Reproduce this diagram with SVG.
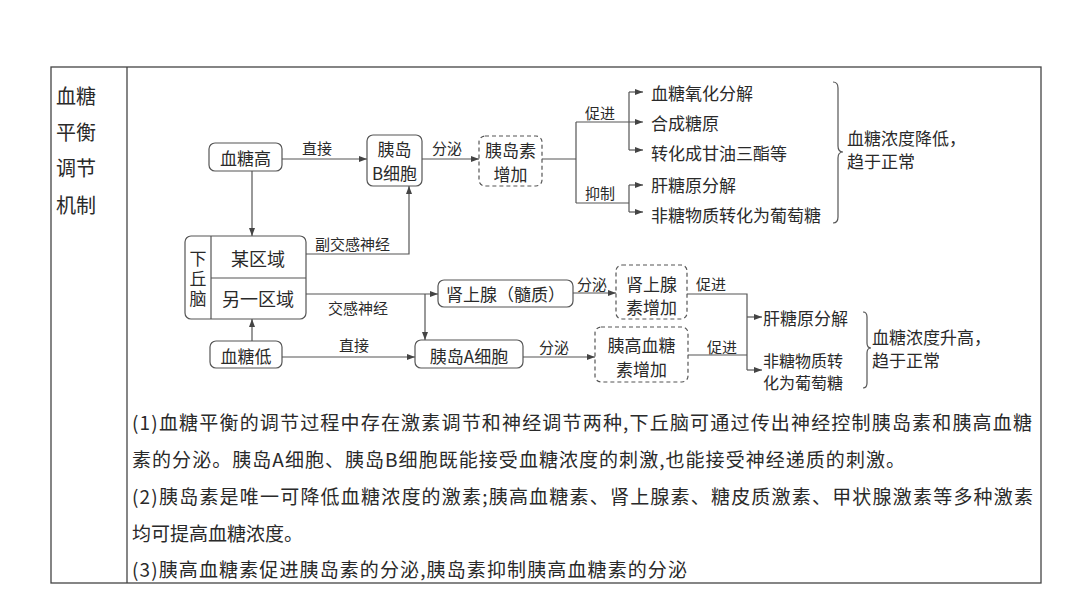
<svg xmlns="http://www.w3.org/2000/svg" width="1080" height="607" viewBox="0 0 1080 607">
<style>
text{font-family:"Noto Sans CJK SC","Noto Sans",sans-serif;fill:#2a2a2a;dominant-baseline:central}
.n{font-size:17px}
.l{font-size:15px}
.p{font-size:19px}
.box{fill:#fff;stroke:#555;stroke-width:1.2}
.dash{fill:#fff;stroke:#555;stroke-width:1.2;stroke-dasharray:4 3}
.c{fill:none;stroke:#555;stroke-width:1.2}
.a{marker-end:url(#ah)}
</style>
<defs>
<marker id="ah" markerUnits="userSpaceOnUse" markerWidth="8" markerHeight="6" refX="8" refY="3" orient="auto">
<path d="M0,0 L8,3 L0,6 z" fill="#444"/>
</marker>
</defs>
<rect width="1080" height="607" fill="#fff"/>
<g id="table">
<rect x="51" y="67" width="990" height="516" fill="none" stroke="#444" stroke-width="1.3"/>
<line x1="127" y1="67" x2="127" y2="583" stroke="#444" stroke-width="1.3"/>
<text style="font-size:20px"><tspan x="56" y="95">血糖</tspan><tspan x="56" y="131">平衡</tspan><tspan x="56" y="167">调节</tspan><tspan x="56" y="204">机制</tspan></text>
</g>
<g id="connectors">
<path class="c a" d="M282,159 L367,159"/>
<path class="c a" d="M252,171 L252,236"/>
<path class="c a" d="M306,254 L409,254 L409,186"/>
<path class="c a" d="M422,159 L479,159"/>
<path class="c" d="M542,159 L576,159 M576,122 L576,203 M629,92 L629,150 M576,203 L629,203 M629,185 L629,212"/>
<path class="c a" d="M576,122 L643,122"/>
<path class="c a" d="M629,92 L643,92"/>
<path class="c a" d="M629,150 L643,150"/>
<path class="c a" d="M629,185 L643,185"/>
<path class="c a" d="M629,212 L643,212"/>
<path class="c a" d="M306,294 L438,294"/>
<path class="c a" d="M425,294 L425,340"/>
<path class="c a" d="M252,341 L252,319"/>
<path class="c a" d="M282,357 L415,357"/>
<path class="c a" d="M573,293 L616,293"/>
<path class="c a" d="M523,357 L595,357"/>
<path class="c" d="M687,294 L747,294 L747,370 M688,355 L747,355"/>
<path class="c a" d="M747,317 L762,317"/>
<path class="c a" d="M747,370 L762,370"/>
<text class="l" x="302" y="147">直接</text>
<text class="l" x="432" y="147">分泌</text>
<text class="l" x="585" y="112">促进</text>
<text class="l" x="585" y="192">抑制</text>
<text class="l" x="315" y="243">副交感神经</text>
<text class="l" x="328" y="307">交感神经</text>
<text class="l" x="339" y="344">直接</text>
<text class="l" x="577" y="283">分泌</text>
<text class="l" x="539" y="346">分泌</text>
<text class="l" x="696" y="283">促进</text>
<text class="l" x="707" y="346">促进</text>
</g>
<g id="n-high">
<rect class="box" x="209" y="143" width="73" height="28" rx="6"/>
<text class="n" x="245.5" y="157" text-anchor="middle">血糖高</text>
</g>
<g id="n-bcell">
<rect class="box" x="367" y="135" width="55" height="51" rx="6"/>
<text class="n" text-anchor="middle"><tspan x="394.5" y="148">胰岛</tspan><tspan x="394.5" y="171.5">B细胞</tspan></text>
</g>
<g id="n-insulin">
<rect class="dash" x="479" y="136" width="63" height="50" rx="6"/>
<text class="n" text-anchor="middle"><tspan x="510.5" y="149">胰岛素</tspan><tspan x="510.5" y="172.5">增加</tspan></text>
</g>
<g id="n-effects-low">
<text class="n" x="651" y="92">血糖氧化分解</text>
<text class="n" x="651" y="122">合成糖原</text>
<text class="n" x="651" y="152">转化成甘油三酯等</text>
<text class="n" x="651" y="184">肝糖原分解</text>
<text class="n" x="651" y="214">非糖物质转化为葡萄糖</text>
<path class="c" d="M833,82 Q838,82 838,88 L838,146 Q838,152 843,152 Q838,152 838,158 L838,217 Q838,223 833,223"/>
<text class="n"><tspan x="847" y="136.5">血糖浓度降低，</tspan><tspan x="847" y="160">趋于正常</tspan></text>
</g>
<g id="n-hypothalamus">
<rect class="box" x="185" y="236" width="121" height="83" rx="6"/>
<line x1="211" y1="236" x2="211" y2="319" stroke="#555" stroke-width="1.2"/>
<line x1="211" y1="278" x2="306" y2="278" stroke="#555" stroke-width="1.2"/>
<text class="n" x="198" y="280" text-anchor="middle" writing-mode="vertical-rl" style="letter-spacing:3px">下丘脑</text>
<text x="258" y="258" text-anchor="middle" style="font-size:18px">某区域</text>
<text x="258" y="298" text-anchor="middle" style="font-size:18px">另一区域</text>
</g>
<g id="n-low">
<rect class="box" x="210" y="341" width="72" height="27" rx="6"/>
<text class="n" x="246" y="355" text-anchor="middle">血糖低</text>
</g>
<g id="n-adrenal">
<rect class="box" x="438" y="280" width="135" height="27" rx="6"/>
<text class="n" x="505.5" y="293" text-anchor="middle">肾上腺（髓质）</text>
</g>
<g id="n-acell">
<rect class="box" x="415" y="340" width="108" height="28" rx="6"/>
<text class="n" x="469" y="355" text-anchor="middle">胰岛A细胞</text>
</g>
<g id="n-adrenaline">
<rect class="dash" x="616" y="265" width="71" height="54" rx="6"/>
<text class="n" text-anchor="middle"><tspan x="651.5" y="283">肾上腺</tspan><tspan x="651.5" y="306">素增加</tspan></text>
</g>
<g id="n-glucagon">
<rect class="dash" x="595" y="327" width="93" height="55" rx="6"/>
<text class="n" text-anchor="middle"><tspan x="641.5" y="344">胰高血糖</tspan><tspan x="641.5" y="367.5">素增加</tspan></text>
</g>
<g id="n-effects-high">
<text class="n" x="763" y="317">肝糖原分解</text>
<text style="font-size:16px"><tspan x="763" y="360">非糖物质转</tspan><tspan x="763" y="382">化为葡萄糖</tspan></text>
<path class="c" d="M863,312 Q867,312 867,317 L867,343 Q867,348 871,348 Q867,348 867,353 L867,383 Q867,388 863,388"/>
<text class="n"><tspan x="872" y="335.5">血糖浓度升高，</tspan><tspan x="872" y="359">趋于正常</tspan></text>
</g>
<g id="notes">
<text class="p" x="132" y="421" textLength="900" lengthAdjust="spacing">(1)血糖平衡的调节过程中存在激素调节和神经调节两种,下丘脑可通过传出神经控制胰岛素和胰高血糖</text>
<text class="p" x="132" y="458" textLength="773" lengthAdjust="spacing">素的分泌。胰岛A细胞、胰岛B细胞既能接受血糖浓度的刺激,也能接受神经递质的刺激。</text>
<text class="p" x="132" y="495" textLength="901" lengthAdjust="spacing">(2)胰岛素是唯一可降低血糖浓度的激素;胰高血糖素、肾上腺素、糖皮质激素、甲状腺激素等多种激素</text>
<text class="p" x="132" y="532">均可提高血糖浓度。</text>
<text class="p" x="132" y="568" textLength="555" lengthAdjust="spacing">(3)胰高血糖素促进胰岛素的分泌,胰岛素抑制胰高血糖素的分泌</text>
</g>
</svg>
